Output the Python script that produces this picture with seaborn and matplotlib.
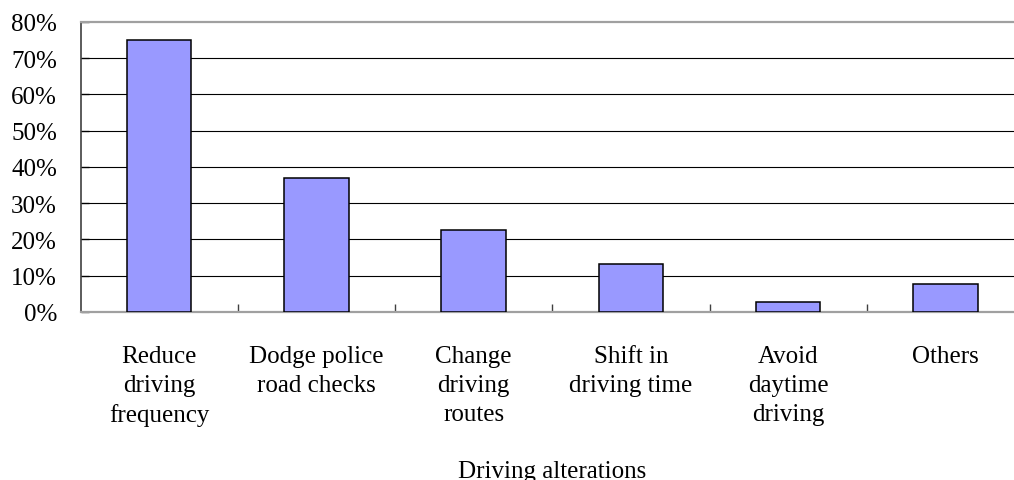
import matplotlib
matplotlib.use("Agg")
import matplotlib.pyplot as plt
import matplotlib.ticker as mticker
import seaborn as sns
import pandas as pd

# Share of respondents reporting each driving alteration (%)
categories = [
    "Reduce\ndriving\nfrequency",
    "Dodge police\nroad checks",
    "Change\ndriving\nroutes",
    "Shift in\ndriving time",
    "Avoid\ndaytime\ndriving",
    "Others",
]
shares = [75.0, 37.0, 22.6, 13.2, 2.8, 7.7]
y_ticks = [0, 10, 20, 30, 40, 50, 60, 70, 80]

df = pd.DataFrame({"alteration": categories, "share": shares})

sns.set_theme(style="white")
plt.rcParams["font.family"] = ["Liberation Serif", "DejaVu Serif"]
plt.rcParams["font.size"] = 18
plt.rcParams["text.color"] = "black"
plt.rcParams["axes.labelcolor"] = "black"
plt.rcParams["xtick.color"] = "black"
plt.rcParams["ytick.color"] = "black"

fig = plt.figure(figsize=(10.14, 4.81), dpi=100)
ax = fig.add_axes([0.0794, 0.3493, 0.9306, 0.6029])

sns.barplot(
    data=df, x="alteration", y="share", ax=ax,
    color="#9999FF", saturation=1, width=0.41,
    edgecolor="black", linewidth=1.1, zorder=3,
)

ax.set_xlim(-0.5, len(categories) - 0.5)
ax.set_ylim(0, 80)
ax.set_yticks(y_ticks)
ax.yaxis.set_major_formatter(mticker.PercentFormatter(decimals=0))

# horizontal gridlines
for v in y_ticks[1:-1]:
    ax.axhline(v, color="black", linewidth=0.8, zorder=1)

# category separators as inward minor ticks
ax.set_xticks([i + 0.5 for i in range(len(categories) - 1)], minor=True)
ax.tick_params(axis="x", which="major", length=0, pad=24, labelsize=18)
ax.tick_params(axis="x", which="minor", direction="in", length=6,
               width=1.0, color="#404040", bottom=True)
ax.tick_params(axis="y", which="major", direction="in", length=6,
               width=1.0, color="#303030", left=True, pad=17, labelsize=18)

ax.set_xlabel("Driving alterations", fontsize=18, labelpad=24)
ax.set_ylabel("")

ax.spines["left"].set_color("#404040")
ax.spines["left"].set_linewidth(1.2)
ax.spines["top"].set_color("#a0a0a0")
ax.spines["top"].set_linewidth(1.6)
ax.spines["bottom"].set_color("#a0a0a0")
ax.spines["bottom"].set_linewidth(1.6)
ax.spines["right"].set_visible(False)

fig.canvas.draw()
for lbl in ax.get_xticklabels():
    lbl.set_linespacing(1.4)

fig.savefig("out.png", dpi=100, facecolor="white")
